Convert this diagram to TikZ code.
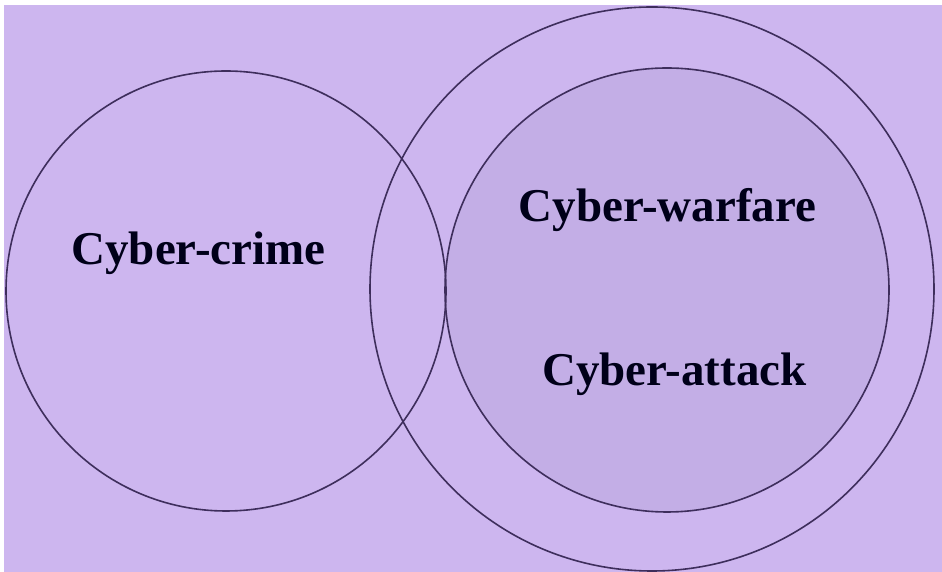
\documentclass[tikz,border=0pt]{standalone}
\usepackage{fontspec}
\setmainfont{Liberation Serif}
\definecolor{lavender bg}{HTML}{CDB6EF}
\definecolor{inner fill}{HTML}{C3AEE6}
\definecolor{ring line}{HTML}{3E2E5C}
\tikzset{
    venn/.style = {
        draw = ring line,
        line width = 1.6pt,
        circle,
        inner sep = 0pt,
        },
    inner venn/.style = {
        fill = inner fill,
        },
    label text/.style = {
        font = \fontsize{47}{50}\selectfont\bfseries,
        text = black!90!blue,
        inner sep = 0pt,
        anchor = base,
        },
}
\begin{document}
\begin{tikzpicture}[x=1pt, y=1pt]
            \useasboundingbox (0,0) rectangle (942,572);
            \fill[white] (0,0) rectangle (942,572);
            \fill[lavender bg] (4,0) rectangle (942,567);

            \node[venn, minimum size=564pt] (warfare) at (652,283) {};
            \node[venn, inner venn, minimum size=444pt] (attack) at (667,282) {};
            \node[venn, minimum size=440pt] (crime) at (226,281) {};

            \node[label text] (crime label) at (198.5,307) {Cyber-crime};
            \node[label text] (warfare label) at (667.5,350) {Cyber-warfare};
            \node[label text] (attack label) at (674.5,186) {Cyber-attack};
        \end{tikzpicture}
\end{document}
